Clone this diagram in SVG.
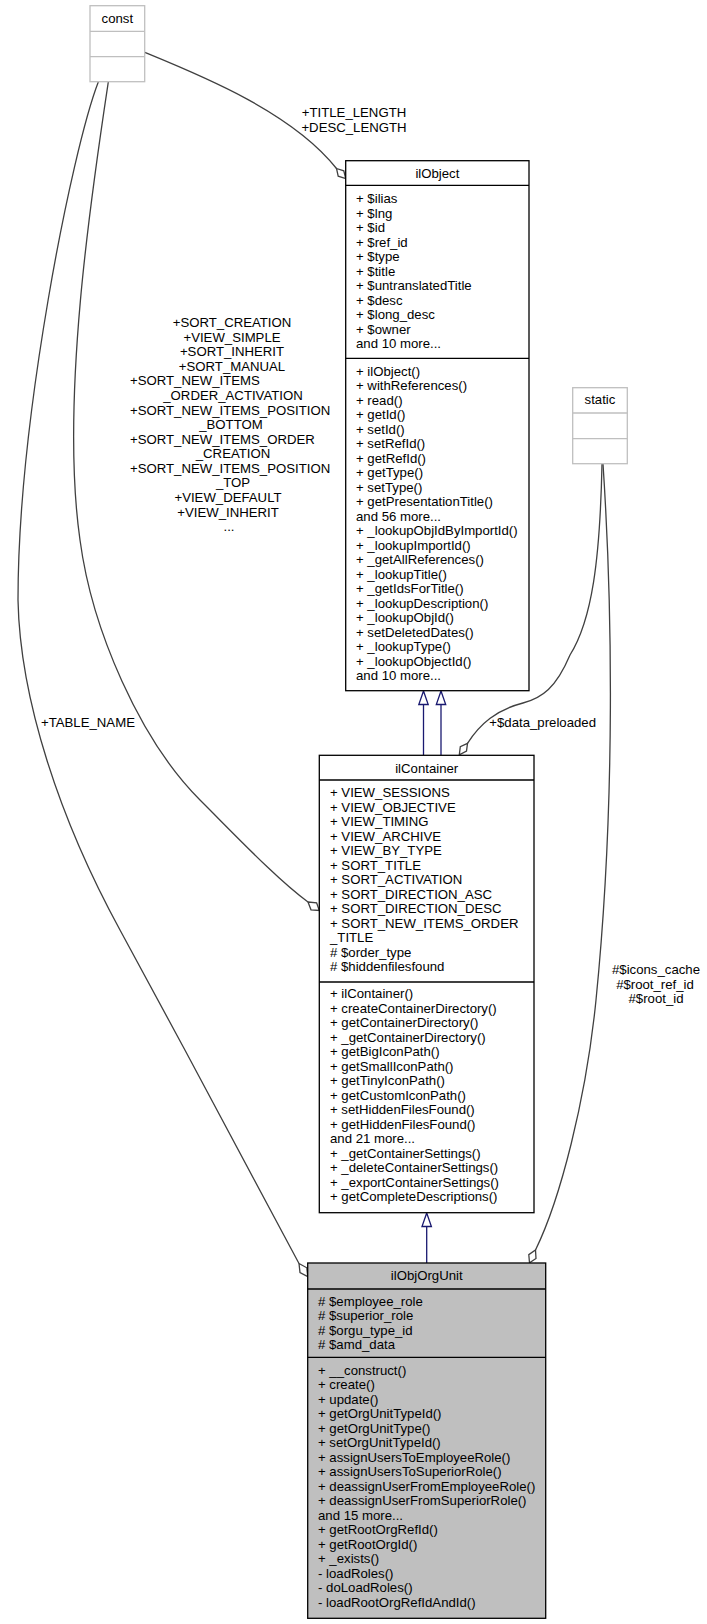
<svg xmlns="http://www.w3.org/2000/svg" width="707" height="1624" viewBox="0 0 707 1624">
<style>
text{font-family:"Liberation Sans",Arial,Helvetica,sans-serif;font-size:13.2px;fill:#000}
.c{text-anchor:middle}
.box{fill:#fff;stroke:#000;stroke-width:1.3}
.gbox{fill:#bfbfbf;stroke:#000;stroke-width:1.3}
.lbox{fill:#fff;stroke:#bfbfbf;stroke-width:1.3}
.div{stroke:#000;stroke-width:1.3}
.ldiv{stroke:#bfbfbf;stroke-width:1.3}
.e{fill:none;stroke:#404040;stroke-width:1.3}
.dm{fill:#fff;stroke:#404040;stroke-width:1.3}
.inh{fill:none;stroke:#191970;stroke-width:1.3}
.tri{fill:#fff;stroke:#191970;stroke-width:1.3}
</style>
<rect width="707" height="1624" fill="#fff"/>
<g id="edges">
  <!-- const -> ilObject -->
  <path class="e" d="M144.7,52.3 C200,75 292,112 336.5,168.5"/>
  <polygon class="dm" points="336.5,168.5 343.8,170.8 345.7,178.5 338.2,176.2"/>
  <text x="354" y="117.3" class="c">+TITLE_LENGTH</text>
  <text x="354" y="131.8" class="c">+DESC_LENGTH</text>
  <!-- const -> ilContainer -->
  <path class="e" d="M108.3,82 C92,190 60,400 80,540 C92,630 140,740 200,800 C240,840 278,880 308,902"/>
  <polygon class="dm" points="308,902 316.6,902.8 319.3,910.5 311,909.8"/>
  <text x="232" y="327" class="c">+SORT_CREATION</text>
  <text x="232" y="341.6" class="c">+VIEW_SIMPLE</text>
  <text x="232" y="356.2" class="c">+SORT_INHERIT</text>
  <text x="232" y="370.7" class="c">+SORT_MANUAL</text>
  <text x="130" y="385.3">+SORT_NEW_ITEMS</text>
  <text x="233" y="399.9" class="c">_ORDER_ACTIVATION</text>
  <text x="130" y="414.5">+SORT_NEW_ITEMS_POSITION</text>
  <text x="231" y="429" class="c">_BOTTOM</text>
  <text x="130" y="443.6">+SORT_NEW_ITEMS_ORDER</text>
  <text x="233" y="458.2" class="c">_CREATION</text>
  <text x="130" y="472.8">+SORT_NEW_ITEMS_POSITION</text>
  <text x="233" y="487.4" class="c">_TOP</text>
  <text x="228" y="502" class="c">+VIEW_DEFAULT</text>
  <text x="228" y="516.5" class="c">+VIEW_INHERIT</text>
  <text x="229" y="531" class="c">...</text>
  <!-- const -> ilObjOrgUnit -->
  <path class="e" d="M98.3,82 C72,150 18,420 18,600 C20,700 60,820 120,930 C180,1040 260,1190 299,1263.5"/>
  <polygon class="dm" points="299,1263.5 306.8,1267.8 307.7,1276.5 300,1272.5"/>
  <text x="41" y="727">+TABLE_NAME</text>
  <!-- static -> ilContainer -->
  <path class="e" d="M602,464 C600,560 592,620 570,655 C556,688 542,698 523,703 C496,710 480,724 467.5,743.3"/>
  <polygon class="dm" points="467.5,743.3 466.5,751.1 459.3,754.8 460.3,746.6"/>
  <text x="489.3" y="727">+$data_preloaded</text>
  <!-- static -> ilObjOrgUnit -->
  <path class="e" d="M603,464 C612,600 616,800 596,1000 C586,1100 560,1200 535.5,1250"/>
  <polygon class="dm" points="535.5,1250 536,1258.5 529.5,1262.8 528.8,1254.6"/>
  <text x="656" y="974" class="c">#$icons_cache</text>
  <text x="655" y="988.5" class="c">#$root_ref_id</text>
  <text x="656" y="1003" class="c">#$root_id</text>
  <!-- ilObject -> ilContainer (inheritance, two edges) -->
  <line class="inh" x1="423.5" y1="755.3" x2="423.5" y2="704.5"/>
  <polygon class="tri" points="423.5,691 428.2,704.5 418.8,704.5"/>
  <line class="inh" x1="441" y1="755.3" x2="441" y2="704.5"/>
  <polygon class="tri" points="441,691 445.7,704.5 436.3,704.5"/>
  <!-- ilContainer -> ilObjOrgUnit -->
  <line class="inh" x1="426.7" y1="1263" x2="426.7" y2="1226.5"/>
  <polygon class="tri" points="426.7,1213 431.4,1226.5 422,1226.5"/>
</g>
<g id="const">
  <rect class="lbox" x="90" y="5.7" width="54.7" height="76"/>
  <line class="ldiv" x1="90" y1="31.3" x2="144.7" y2="31.3"/>
  <line class="ldiv" x1="90" y1="56.7" x2="144.7" y2="56.7"/>
  <text x="117.3" y="22.5" class="c">const</text>
</g>
<g id="static">
  <rect class="lbox" x="572.7" y="387.7" width="54.6" height="76"/>
  <line class="ldiv" x1="572.7" y1="413" x2="627.3" y2="413"/>
  <line class="ldiv" x1="572.7" y1="438.7" x2="627.3" y2="438.7"/>
  <text x="600" y="404.3" class="c">static</text>
</g>
<g id="ilObject">
  <rect class="box" x="345.7" y="160.7" width="183.3" height="530"/>
  <line class="div" x1="345.7" y1="185.3" x2="529" y2="185.3"/>
  <line class="div" x1="345.7" y1="358.3" x2="529" y2="358.3"/>
  <text x="437.4" y="178" class="c">ilObject</text>
  <text x="356" y="203.3"><tspan x="356" dy="0">+ $ilias</tspan><tspan x="356" dy="14.5">+ $lng</tspan><tspan x="356" dy="14.5">+ $id</tspan><tspan x="356" dy="14.5">+ $ref_id</tspan><tspan x="356" dy="14.5">+ $type</tspan><tspan x="356" dy="14.5">+ $title</tspan><tspan x="356" dy="14.5">+ $untranslatedTitle</tspan><tspan x="356" dy="14.5">+ $desc</tspan><tspan x="356" dy="14.5">+ $long_desc</tspan><tspan x="356" dy="14.5">+ $owner</tspan><tspan x="356" dy="14.5">and 10 more...</tspan></text>
  <text x="356" y="375.5"><tspan x="356" dy="0">+ ilObject()</tspan><tspan x="356" dy="14.5">+ withReferences()</tspan><tspan x="356" dy="14.5">+ read()</tspan><tspan x="356" dy="14.5">+ getId()</tspan><tspan x="356" dy="14.5">+ setId()</tspan><tspan x="356" dy="14.5">+ setRefId()</tspan><tspan x="356" dy="14.5">+ getRefId()</tspan><tspan x="356" dy="14.5">+ getType()</tspan><tspan x="356" dy="14.5">+ setType()</tspan><tspan x="356" dy="14.5">+ getPresentationTitle()</tspan><tspan x="356" dy="14.5">and 56 more...</tspan><tspan x="356" dy="14.5">+ _lookupObjIdByImportId()</tspan><tspan x="356" dy="14.5">+ _lookupImportId()</tspan><tspan x="356" dy="14.5">+ _getAllReferences()</tspan><tspan x="356" dy="14.5">+ _lookupTitle()</tspan><tspan x="356" dy="14.5">+ _getIdsForTitle()</tspan><tspan x="356" dy="14.5">+ _lookupDescription()</tspan><tspan x="356" dy="14.5">+ _lookupObjId()</tspan><tspan x="356" dy="14.5">+ setDeletedDates()</tspan><tspan x="356" dy="14.5">+ _lookupType()</tspan><tspan x="356" dy="14.5">+ _lookupObjectId()</tspan><tspan x="356" dy="14.5">and 10 more...</tspan></text>
</g>
<g id="ilContainer">
  <rect class="box" x="319.3" y="755.3" width="214.7" height="457.4"/>
  <line class="div" x1="319.3" y1="780" x2="534" y2="780"/>
  <line class="div" x1="319.3" y1="982" x2="534" y2="982"/>
  <text x="426.7" y="772.6" class="c">ilContainer</text>
  <text x="330" y="797"><tspan x="330" dy="0">+ VIEW_SESSIONS</tspan><tspan x="330" dy="14.5">+ VIEW_OBJECTIVE</tspan><tspan x="330" dy="14.5">+ VIEW_TIMING</tspan><tspan x="330" dy="14.5">+ VIEW_ARCHIVE</tspan><tspan x="330" dy="14.5">+ VIEW_BY_TYPE</tspan><tspan x="330" dy="14.5">+ SORT_TITLE</tspan><tspan x="330" dy="14.5">+ SORT_ACTIVATION</tspan><tspan x="330" dy="14.5">+ SORT_DIRECTION_ASC</tspan><tspan x="330" dy="14.5">+ SORT_DIRECTION_DESC</tspan><tspan x="330" dy="14.5">+ SORT_NEW_ITEMS_ORDER</tspan><tspan x="330" dy="14.5">_TITLE</tspan><tspan x="330" dy="14.5"># $order_type</tspan><tspan x="330" dy="14.5"># $hiddenfilesfound</tspan></text>
  <text x="330" y="998"><tspan x="330" dy="0">+ ilContainer()</tspan><tspan x="330" dy="14.5">+ createContainerDirectory()</tspan><tspan x="330" dy="14.5">+ getContainerDirectory()</tspan><tspan x="330" dy="14.5">+ _getContainerDirectory()</tspan><tspan x="330" dy="14.5">+ getBigIconPath()</tspan><tspan x="330" dy="14.5">+ getSmallIconPath()</tspan><tspan x="330" dy="14.5">+ getTinyIconPath()</tspan><tspan x="330" dy="14.5">+ getCustomIconPath()</tspan><tspan x="330" dy="14.5">+ setHiddenFilesFound()</tspan><tspan x="330" dy="14.5">+ getHiddenFilesFound()</tspan><tspan x="330" dy="14.5">and 21 more...</tspan><tspan x="330" dy="14.5">+ _getContainerSettings()</tspan><tspan x="330" dy="14.5">+ _deleteContainerSettings()</tspan><tspan x="330" dy="14.5">+ _exportContainerSettings()</tspan><tspan x="330" dy="14.5">+ getCompleteDescriptions()</tspan></text>
</g>
<g id="ilObjOrgUnit">
  <rect class="gbox" x="307.7" y="1263" width="238" height="355.3"/>
  <line class="div" x1="307.7" y1="1289" x2="545.7" y2="1289"/>
  <line class="div" x1="307.7" y1="1357.3" x2="545.7" y2="1357.3"/>
  <text x="426.7" y="1280.3" class="c">ilObjOrgUnit</text>
  <text x="318" y="1305.5"><tspan x="318" dy="0"># $employee_role</tspan><tspan x="318" dy="14.5"># $superior_role</tspan><tspan x="318" dy="14.5"># $orgu_type_id</tspan><tspan x="318" dy="14.5"># $amd_data</tspan></text>
  <text x="318" y="1374.8"><tspan x="318" dy="0">+ __construct()</tspan><tspan x="318" dy="14.5">+ create()</tspan><tspan x="318" dy="14.5">+ update()</tspan><tspan x="318" dy="14.5">+ getOrgUnitTypeId()</tspan><tspan x="318" dy="14.5">+ getOrgUnitType()</tspan><tspan x="318" dy="14.5">+ setOrgUnitTypeId()</tspan><tspan x="318" dy="14.5">+ assignUsersToEmployeeRole()</tspan><tspan x="318" dy="14.5">+ assignUsersToSuperiorRole()</tspan><tspan x="318" dy="14.5">+ deassignUserFromEmployeeRole()</tspan><tspan x="318" dy="14.5">+ deassignUserFromSuperiorRole()</tspan><tspan x="318" dy="14.5">and 15 more...</tspan><tspan x="318" dy="14.5">+ getRootOrgRefId()</tspan><tspan x="318" dy="14.5">+ getRootOrgId()</tspan><tspan x="318" dy="14.5">+ _exists()</tspan><tspan x="318" dy="14.5">- loadRoles()</tspan><tspan x="318" dy="14.5">- doLoadRoles()</tspan><tspan x="318" dy="14.5">- loadRootOrgRefIdAndId()</tspan></text>
</g>
</svg>
